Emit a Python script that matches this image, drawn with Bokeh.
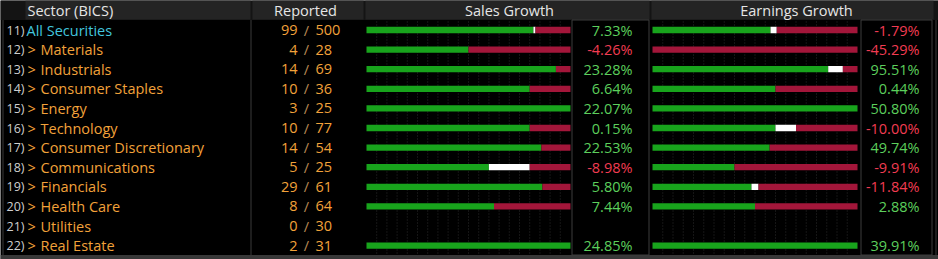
from bokeh.plotting import figure
from bokeh.models import Range1d, ColumnDataSource
from bokeh.core.properties import value
from bokeh.embed import file_html
from bokeh.resources import INLINE

# ---------------- data ----------------
row_nums = ["11)", "12)", "13)", "14)", "15)", "16)", "17)", "18)", "19)", "20)", "21)", "22)"]
sectors = ["All Securities", "Materials", "Industrials", "Consumer Staples", "Energy",
           "Technology", "Consumer Discretionary", "Communications", "Financials",
           "Health Care", "Utilities", "Real Estate"]
reported = [99, 4, 14, 10, 3, 10, 14, 5, 29, 8, 0, 2]
totals = [500, 28, 69, 36, 25, 77, 54, 25, 61, 64, 30, 31]

sales_beat = [81, 2, 13, 8, 3, 8, 12, 3, 25, 5, 0, 2]
sales_inline = [1, 0, 0, 0, 0, 0, 0, 1, 0, 0, 0, 0]
earn_beat = [57, 0, 12, 6, 3, 6, 8, 2, 14, 4, 0, 2]
earn_inline = [3, 0, 1, 0, 0, 1, 0, 0, 1, 0, 0, 0]

sales_growth = [7.33, -4.26, 23.28, 6.64, 22.07, 0.15, 22.53, -8.98, 5.80, 7.44, None, 24.85]
earn_growth = [-1.79, -45.29, 95.51, 0.44, 50.80, -10.00, 49.74, -9.91, -11.84, 2.88, None, 39.91]

# ---------------- layout constants ----------------
W, H = 938, 259
ROW0, ROWH = 29.5, 19.6
SX0, SW = 366, 204     # sales bar panel
EX0, EW = 652, 205     # earnings bar panel
BAR_H = 0.32

FONT = "Open Sans"
ORANGE = "#f2a23a"
CYAN = "#42c6de"
GREEN_BAR = "#18a41c"
RED_BAR = "#a3163a"
GREEN_TXT = "#5ccf5c"
RED_TXT = "#f23c52"

p = figure(width=W, height=H, x_range=Range1d(0, W), y_range=Range1d(H, 0),
           output_backend="svg", toolbar_location=None, min_border=0,
           x_axis_type=None, y_axis_type=None)
p.grid.visible = False
p.outline_line_color = None
p.background_fill_color = "#000000"
p.border_fill_color = "#000000"

p.extra_x_ranges = {
    "sales": Range1d(start=-SX0 / SW, end=(W - SX0) / SW),
    "earn": Range1d(start=-EX0 / EW, end=(W - EX0) / EW),
}
p.extra_y_ranges = {"rows": Range1d(start=(H - ROW0) / ROWH, end=-ROW0 / ROWH)}

# ---------------- frame / header ----------------
p.quad(left=[0], right=[W], top=[0], bottom=[19.5], fill_color="#141414", line_color=None)
hdr_left = [25, 252, 365, 651]
hdr_right = [250, 363, 649, 933]
p.quad(left=hdr_left, right=hdr_right, top=[0] * 4, bottom=[19] * 4,
       fill_color="#242424", line_color=None)
# bottom strip
p.quad(left=[0], right=[W], top=[254.5], bottom=[H], fill_color="#383838", line_color=None)
# left frame & column divider
p.segment(x0=[2.5, 250.5, 935.5], y0=[19.5] * 3, x1=[2.5, 250.5, 935.5], y1=[254.5] * 3,
          line_color="#3a3a3a", line_width=1)
# value boxes
p.quad(left=[571.5, 860.5], right=[648.5, 931.5], top=[19.5, 19.5], bottom=[254.5, 254.5],
       fill_color="#000000", line_color="#3c3c3c", line_width=1)

# header texts
p.text(x=[27], y=[10], text=["Sector (BICS)"], text_color="#e6e6e6",
       text_font=value(FONT), text_font_size="14.5px", text_baseline="middle", text_align="left")
p.text(x=[305, 509, 796], y=[10] * 3, text=["Reported", "Sales Growth", "Earnings Growth"],
       text_color="#e6e6e6", text_font=value(FONT), text_font_size="14.5px",
       text_baseline="middle", text_align="center")

# dotted grid in bar panels
fr = [i / 20 for i in range(1, 20)]
for rn in ("sales", "earn"):
    p.segment(x0=fr, y0=[21] * len(fr), x1=fr, y1=[254] * len(fr), x_range_name=rn,
              line_color="#2a2a2a", line_width=1, line_dash="1 2")

# ---------------- rows: text ----------------
idx = list(range(len(sectors)))
p.text(x=[24] * len(idx), y=idx, text=row_nums, y_range_name="rows",
       text_color="#cfcfcf", text_font=value(FONT), text_font_size="12.5px",
       text_baseline="middle", text_align="right")

name_x = [26 if i == 0 else 40 for i in idx]
name_col = [CYAN if i == 0 else ORANGE for i in idx]
p.text(x=name_x, y=idx, text=sectors, y_range_name="rows", text_color=name_col,
       text_font=value(FONT), text_font_size="14.5px", text_baseline="middle", text_align="left")
chev = [i for i in idx if i > 0]
p.text(x=[27] * len(chev), y=chev, text=[">"] * len(chev), y_range_name="rows",
       text_color=ORANGE, text_font=value(FONT), text_font_size="14.5px",
       text_baseline="middle", text_align="left")

p.text(x=[297] * len(idx), y=idx, text=[str(v) for v in reported], y_range_name="rows",
       text_color=ORANGE, text_font=value(FONT), text_font_size="14.5px",
       text_baseline="middle", text_align="right")
p.text(x=[306] * len(idx), y=idx, text=["/"] * len(idx), y_range_name="rows",
       text_color="#b98a55", text_font=value(FONT), text_font_size="14.5px",
       text_baseline="middle", text_align="center")
p.text(x=[315] * len(idx), y=idx, text=[str(v) for v in totals], y_range_name="rows",
       text_color=ORANGE, text_font=value(FONT), text_font_size="14.5px",
       text_baseline="middle", text_align="left")

# ---------------- rows: bars ----------------
def bar_sources(beat, inline):
    rows, g0, g1, w1, r1 = [], [], [], [], []
    for i in idx:
        n = reported[i]
        if n == 0:
            continue
        b = beat[i] / n
        m = inline[i] / n
        rows.append(i)
        g0.append(0.0)
        g1.append(b)
        w1.append(b + m)
        r1.append(1.0)
    return rows, g0, g1, w1, r1

for rn, beat, inline in (("sales", sales_beat, sales_inline), ("earn", earn_beat, earn_inline)):
    rows, g0, g1, w1, r1 = bar_sources(beat, inline)
    p.hbar(y=rows, left=g0, right=g1, height=BAR_H, fill_color=GREEN_BAR, line_color=None,
           x_range_name=rn, y_range_name="rows")
    p.hbar(y=rows, left=g1, right=w1, height=BAR_H, fill_color="#ffffff", line_color=None,
           x_range_name=rn, y_range_name="rows")
    p.hbar(y=rows, left=w1, right=r1, height=BAR_H, fill_color=RED_BAR, line_color=None,
           x_range_name=rn, y_range_name="rows")

# ---------------- rows: growth values ----------------
for xr, vals in ((632, sales_growth), (919, earn_growth)):
    ys = [i for i in idx if vals[i] is not None]
    txt = [f"{vals[i]:.2f}%" for i in ys]
    col = [GREEN_TXT if vals[i] >= 0 else RED_TXT for i in ys]
    p.text(x=[xr] * len(ys), y=ys, text=txt, y_range_name="rows", text_color=col,
           text_font=value(FONT), text_font_size="14.5px", text_baseline="middle",
           text_align="right")

open("out.html", "w").write(file_html(p, INLINE))
